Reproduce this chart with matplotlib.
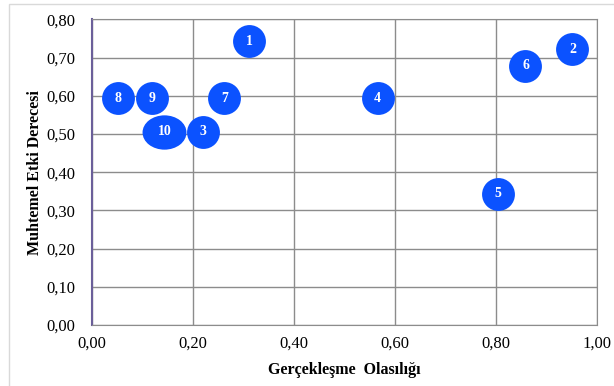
import numpy as np
import matplotlib.pyplot as plt
from matplotlib.path import Path
from matplotlib.transforms import Affine2D
from matplotlib.patches import Rectangle

plt.rcParams['font.family'] = ['Liberation Serif', 'DejaVu Serif']

labels = ['1', '2', '3', '4', '5', '6', '7', '8', '9', '10']
olasilik = [0.312, 0.952, 0.220, 0.566, 0.805, 0.859, 0.263, 0.053, 0.120, 0.144]
etki = [0.742, 0.722, 0.506, 0.593, 0.343, 0.678, 0.593, 0.593, 0.593, 0.506]

xticks = [0.0, 0.2, 0.4, 0.6, 0.8, 1.0]
yticks = [0.0, 0.1, 0.2, 0.3, 0.4, 0.5, 0.6, 0.7, 0.8]

blue = '#0b52ff'

fig = plt.figure(figsize=(6.14, 3.86), dpi=100)
ax = fig.add_axes([0.1493, 0.158, 0.8225, 0.792])

# outer light frame
fig.patches.append(Rectangle((9 / 614, -0.01), 1.0, 1 - 4 / 386 + 0.01,
                             transform=fig.transFigure, fill=False,
                             edgecolor='#d9d9d9', linewidth=1))

circle = Path.unit_circle()
ellipse = circle.transformed(Affine2D().scale(1.28, 1.0))

for lab, x, y in zip(labels, olasilik, etki):
    if lab == '10':
        ax.scatter(x, y, s=1000, marker=ellipse, color=blue, zorder=3, linewidths=0)
    else:
        ax.scatter(x, y, s=560, marker='o', color=blue, zorder=3, linewidths=0)
    ax.text(x, y, lab, color='white', fontsize=10, fontweight='bold',
            ha='center', va='center', zorder=4)

ax.set_xlim(0, 1)
ax.set_ylim(0, 0.8)
ax.set_xticks(xticks)
ax.set_yticks(yticks)
ax.set_xticklabels([f'{v:.2f}'.replace('.', ',') for v in xticks], fontsize=12)
ax.set_yticklabels([f'{v:.2f}'.replace('.', ',') for v in yticks], fontsize=12)
ax.tick_params(length=0, pad=12)
ax.tick_params(axis='x', pad=8)
ax.grid(True, color='#8c8c8c', linewidth=1)
ax.set_axisbelow(True)

for side in ['top', 'right', 'bottom']:
    ax.spines[side].set_color('#8c8c8c')
ax.spines['left'].set_color('#6b5f9a')
ax.spines['left'].set_linewidth(1.5)

ax.set_xlabel('Gerçekleşme  Olasılığı', fontsize=11.5, fontweight='bold', labelpad=7)
ax.set_ylabel('Muhtemel Etki Derecesi', fontsize=11.5, fontweight='bold', labelpad=2)

fig.savefig('out.png', dpi=100)
